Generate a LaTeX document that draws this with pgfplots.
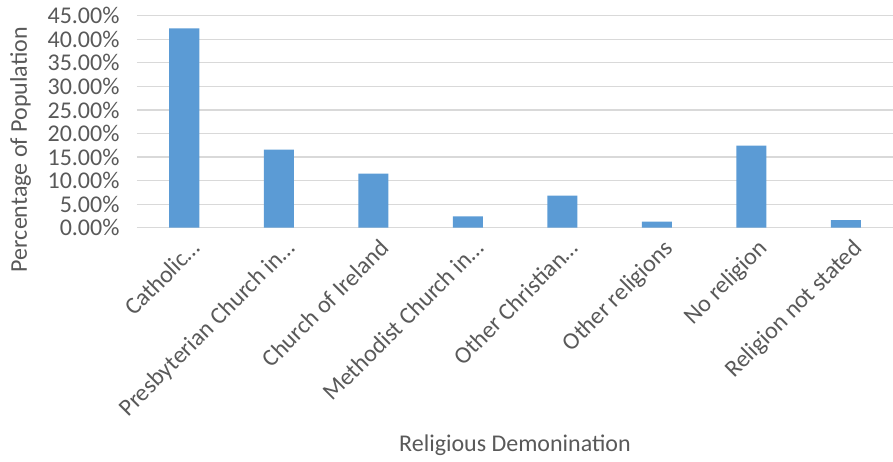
\documentclass[border=0pt]{standalone}
\usepackage{pgfplots}
\pgfplotsset{compat=1.18}
\usepackage{fontspec}
\setmainfont{Carlito}
\definecolor{barblue}{HTML}{5B9BD5}
\definecolor{gridgray}{HTML}{D9D9D9}
\definecolor{txtgray}{HTML}{595959}

\begin{document}
\begin{tikzpicture}
\path[use as bounding box] (-137pt,-233.3pt) rectangle (756pt,227.7pt);
\begin{axis}[
    scale only axis,
    width=756pt, height=212pt,
    at={(0,0)}, anchor=south west,
    ybar, bar width=30pt,
    xmin=-0.5, xmax=7.5,
    ymin=0, ymax=45,
    xtick=data,
    xticklabels={{Catholic\ldots},{Presbyterian Church in\ldots},{Church of Ireland},{Methodist Church in\ldots},{Other Christian\ldots},{Other religions},{No religion},{Religion not stated}},
    ytick={0,5,10,15,20,25,30,35,40,45},
    yticklabel={\pgfmathprintnumber[fixed,fixed zerofill,precision=2]{\tick}\%},
    /pgf/number format/assume math mode=true,
    ymajorgrids, grid style={gridgray, line width=1.3pt},
    axis x line*=bottom, axis y line*=left,
    axis line style={draw=none},
    tick style={draw=none},
    tick label style={font=\fontsize{24}{28}\selectfont, text=txtgray},
    xticklabel style={rotate=45, anchor=north east, inner sep=2pt, yshift=-6pt, xshift=2pt},
    yticklabel style={anchor=east, xshift=-14pt},
    xlabel={Religious Demonination},
    ylabel={Percentage of Population},
    label style={font=\fontsize{24}{28}\selectfont, text=txtgray},
    xlabel style={at={([yshift=-224pt]axis description cs:0.5,0)}, anchor=base},
    ylabel style={at={([xshift=-110pt,yshift=-28pt]axis description cs:0,0.5)}, anchor=base},
    clip=false,
]
\addplot[draw=none, fill=barblue] coordinates {
    (0,42.3) (1,16.6) (2,11.5) (3,2.4) (4,6.8) (5,1.3) (6,17.4) (7,1.6)
};
\end{axis}
\end{tikzpicture}
\end{document}
